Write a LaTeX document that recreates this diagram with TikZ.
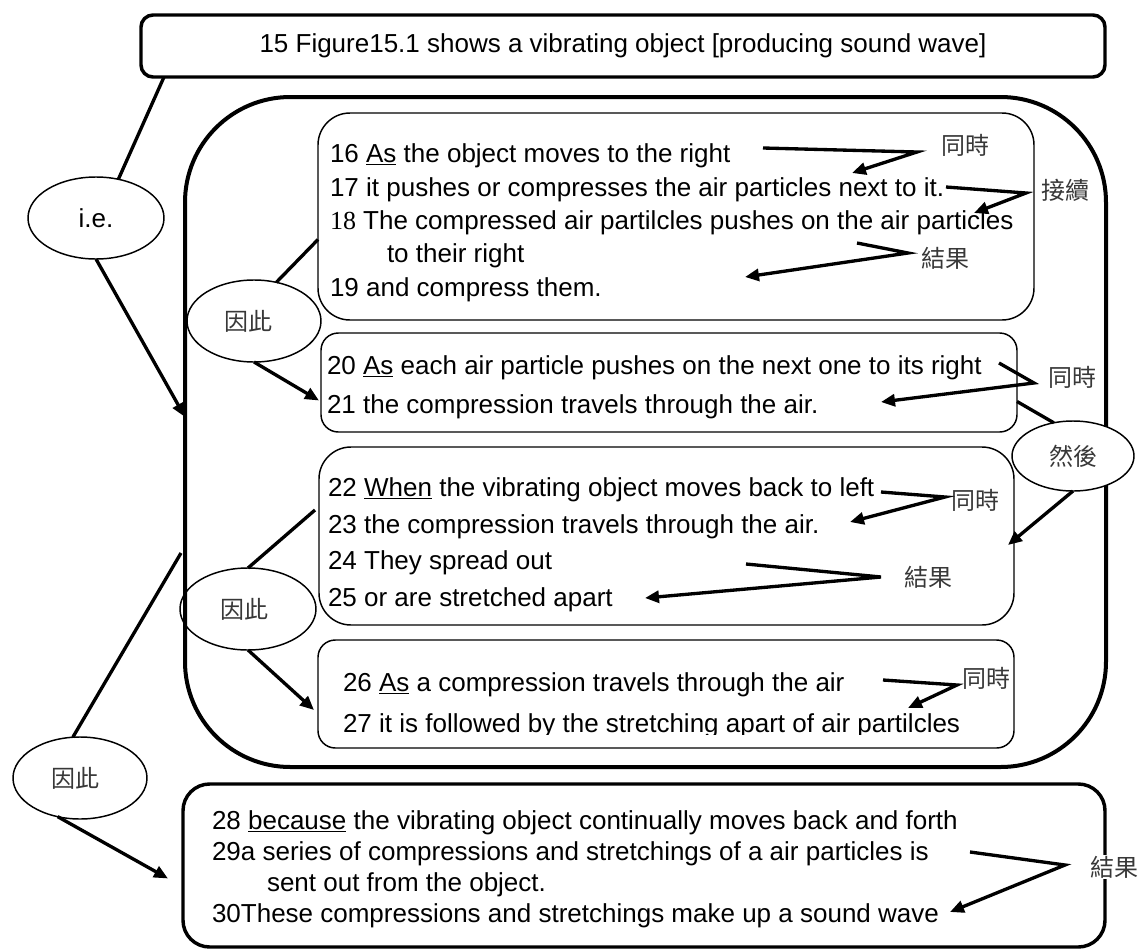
\documentclass[tikz,border=0pt]{standalone}
\usepackage{fontspec}
\setmainfont{Liberation Sans}
\newfontfamily\serifnum{Liberation Serif}
\newfontfamily\cjk{Noto Sans CJK TC}
\usetikzlibrary{arrows.meta,calc,shapes.geometric}

\begin{document}
\begin{tikzpicture}[x=0.75pt,y=-0.75pt,
  every node/.style={outer sep=0pt},
  txtfont/.style={font=\fontsize{19.5}{23}\selectfont},
  txt/.style={txtfont,anchor=base west,inner sep=0pt},
  lab/.style={inner sep=1pt,font=\cjk\fontsize{18}{20}\selectfont,text=black!78},
  bigbox/.style={draw,line width=2.6pt,anchor=north west,inner sep=0pt},
  subbox/.style={draw,line width=1.1pt,anchor=north west,inner sep=0pt},
  bubble/.style={draw,ellipse,line width=1.1pt,inner sep=0pt,minimum height=61.5pt},
  link/.style={line width=2.5pt},
  arr/.style={line width=2.5pt,-{Triangle[length=10.5pt,width=9pt]}},
  bracket/.style={line width=2.5pt,line join=miter,-{Triangle[length=10.5pt,width=9pt]}}
  ]
\useasboundingbox (0,0) rectangle (1140,950);

% ---- headline sentence
\node[bigbox,rounded corners=9pt,minimum width=723pt,minimum height=46.5pt,txtfont,align=center]
  (top) at (141,15) {15 Figure15.1 shows a vibrating object [producing sound wave]};

% ---- big container holding sentences 16-27
\node[bigbox,line width=3pt,rounded corners=79pt,minimum width=690.75pt,minimum height=502.5pt]
  (cont) at (185,97) {};

% ---- inner boxes
\node[subbox,rounded corners=24pt,minimum width=537pt,minimum height=155.25pt] (boxA) at (318,113) {};
\node[subbox,rounded corners=13pt,minimum width=522pt,minimum height=74.25pt] (boxB) at (321,333) {};
\node[subbox,rounded corners=24pt,minimum width=521.25pt,minimum height=133.5pt] (boxC) at (319,447) {};
\node[subbox,rounded corners=13pt,minimum width=522pt,minimum height=81pt] (boxD) at (318,640) {};
\node[bigbox,rounded corners=20pt,minimum width=691.5pt,minimum height=122.25pt] (boxE) at (183,784) {};

% ---- sentences 16-19
\node[txt] (l16) at (330,162) {16 \underline{As} the object moves to the right};
\node[txt] (l17) at (330,196) {17 it pushes or compresses the air particles next to it.};
\node[txt] (l18) at (330,229) {{\serifnum 18} The compressed air partilcles pushes on the air particles};
\node[txt] (l18b) at (387,262) {to their right};
\node[txt] (l19) at (330,296) {19 and compress them.};

% ---- sentences 20-21
\node[txt] (l20) at (327,374) {20 \underline{As} each air particle pushes on the next one to its right};
\node[txt] (l21) at (327,413) {21 the compression travels through the air.};

% ---- sentences 22-25
\node[txt] (l22) at (328,496) {22 \underline{When} the vibrating object moves back to left};
\node[txt] (l23) at (328,533) {23 the compression travels through the air.};
\node[txt] (l24) at (328,569) {24 They spread out};
\node[txt] (l25) at (328,606) {25 or are stretched apart};

% ---- sentences 26-27 (second line runs into the box edge)
\node[txt] (l26) at (343,691) {26 \underline{As} a compression travels through the air};
\begin{scope}
  \clip (318,640) rectangle (1014,734);
  \node[txt] (l27) at (343,732) {27 it is followed by the stretching apart of air partilcles};
\end{scope}

% ---- sentences 28-30
\node[txt] (l28) at (212,829) {28 \underline{because} the vibrating object continually moves back and forth};
\node[txt] (l29) at (212,860) {29a series of compressions and stretchings of a air particles is};
\node[txt] (l29b) at (267,891) {sent out from the object.};
\node[txt] (l30) at (212,922) {30These compressions and stretchings make up a sound wave};

% ---- relation bubbles
\node[bubble,minimum width=102pt,txtfont] (ie) at (96,218) {i.e.};
\node[bubble,minimum width=100.5pt,lab] (e1) at (254,321) {\hspace*{-8pt}因此};
\node[bubble,minimum width=102pt,lab] (e2) at (248,609) {\hspace*{-6pt}因此};
\node[bubble,minimum width=100.5pt,lab] (e3) at (80,778) {\hspace*{-6pt}因此};
\node[bubble,minimum width=91.5pt,minimum height=52.5pt,lab,fill=white] (ra) at (1073,456) {然後};

% ---- bubble connectors
\draw[link] ($(top.south west)+(23,0)$) -- (ie.60);
\draw[arr] (ie.south) -- ($(cont.west)+(0,-15)$);
\draw[link] ($(boxA.west)+(0,23)$) -- (e1.60);
\draw[arr] (e1.south) -- ($(boxB.west)+(-2,18)$);
\draw[link] ($(boxB.east)+(0,19)$) -- (ra.120);
\draw[arr] (ra.south) -- ($(boxC.east)+(-6,9)$);
\draw[link] ($(boxC.west)+(-4,-26)$) -- (e2.north);
\draw[arr] (e2.south) -- ($(boxD.west)+(-4,16)$);
\draw[link] ($(cont.west)+(-4,121)$) -- (e3.100);
\draw[arr] (e3.240) -- ($(boxE.west)+(-15,13)$);

% ---- in-box relation labels
\node[lab] (t1) at (965,145) {同時};
\node[lab] (t2) at (1065,190) {接續};
\node[lab] (t3) at (945,258) {結果};
\node[lab] (t4) at (1072,377) {同時};
\node[lab] (t5) at (975,500) {同時};
\node[lab] (t6) at (928,577) {結果};
\node[lab] (t7) at (986,678) {同時};
\node[lab,fill=white] (t8) at (1114,867) {結果};

% ---- bracket arrows between clauses
\coordinate (b1s) at (763,148); \coordinate (b1v) at (917,152); \coordinate (b1e) at (852,173);
\coordinate (b2s) at (946,187); \coordinate (b2v) at (1026,193); \coordinate (b2e) at (974,213);
\coordinate (b3s) at (857,243); \coordinate (b3v) at (908,253); \coordinate (b3e) at (745,277);
\coordinate (b4s) at (999,363); \coordinate (b4v) at (1034,383); \coordinate (b4e) at (881,402);
\coordinate (b5s) at (881,492); \coordinate (b5v) at (945,497); \coordinate (b5e) at (850,522);
\coordinate (b6s) at (746,564); \coordinate (b6v) at (881,577); \coordinate (b6e) at (645,598);
\coordinate (b7s) at (883,680); \coordinate (b7v) at (957,685); \coordinate (b7e) at (908,708);
\coordinate (b8s) at (970,852); \coordinate (b8v) at (1065,865); \coordinate (b8e) at (950,912);
\foreach \i in {1,...,8}{
  \draw[bracket] (b\i s) -- (b\i v) -- (b\i e);
}
\end{tikzpicture}
\end{document}
